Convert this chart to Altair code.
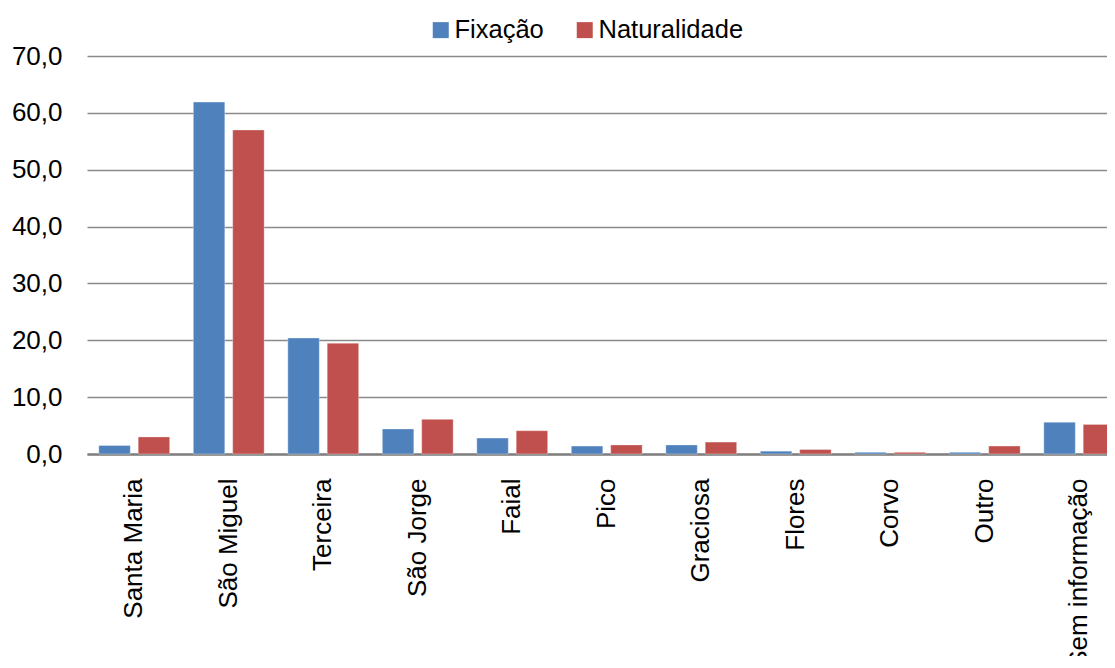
import altair as alt
import pandas as pd

categories = ["Santa Maria", "São Miguel", "Terceira", "São Jorge", "Faial", "Pico",
              "Graciosa", "Flores", "Corvo", "Outro", "Sem informação"]
fixacao = [1.5, 61.9, 20.4, 4.4, 2.8, 1.4, 1.6, 0.5, 0.3, 0.3, 5.6]
naturalidade = [3.0, 57.0, 19.5, 6.1, 4.1, 1.6, 2.1, 0.8, 0.3, 1.4, 5.2]
series = ["Fixação", "Naturalidade"]
colors = ["#4F81BD", "#C0504D"]
y_ticks = [0, 10, 20, 30, 40, 50, 60, 70]

rows = []
for c, f, n in zip(categories, fixacao, naturalidade):
    rows.append({"cat": c, "serie": series[0], "val": f})
    rows.append({"cat": c, "serie": series[1], "val": n})
df = pd.DataFrame(rows)

FONT = "Liberation Sans"

chart = alt.Chart(df).mark_bar(stroke="white", strokeOpacity=0.35, strokeWidth=1).encode(
    x=alt.X("cat:N", sort=categories, title=None,
            scale=alt.Scale(range=[0, 1039.5], paddingInner=0.25, paddingOuter=0.125),
            axis=alt.Axis(labelAngle=270, labelPadding=24, ticks=False, domain=True,
                          domainColor="#808080", domainWidth=2.5, labelFontSize=26,
                          labelFont=FONT, labelColor="black", grid=False, labelLimit=400)),
    xOffset=alt.XOffset("serie:N", sort=series,
                        scale=alt.Scale(paddingInner=0.2, paddingOuter=0)),
    y=alt.Y("val:Q", title=None,
            scale=alt.Scale(domain=[0, 70], nice=False),
            axis=alt.Axis(values=y_ticks, domain=False, ticks=False, grid=True,
                          gridColor="#8a8a8a", gridWidth=1.5, labelPadding=25,
                          labelFontSize=26, labelFont=FONT, labelColor="black",
                          labelExpr="replace(format(datum.value, '.1f'), '.', ',')")),
    color=alt.Color("serie:N", sort=series, title=None,
                    scale=alt.Scale(domain=series, range=colors),
                    legend=alt.Legend(orient="none", direction="horizontal",
                                      legendX=341, legendY=-39,
                                      symbolType="square", symbolSize=256,
                                      symbolStrokeWidth=0, labelOffset=1,
                                      columnPadding=28, labelFontSize=25.5,
                                      labelFont=FONT, labelColor="black")),
).properties(
    width=1020, height=398,
    autosize=alt.AutoSizeParams(type="none"),
    padding={"left": 79, "top": 48, "right": 0, "bottom": 202},
).configure_view(strokeWidth=0)

chart.save("out.html", embed_options={"renderer": "svg", "actions": False})
